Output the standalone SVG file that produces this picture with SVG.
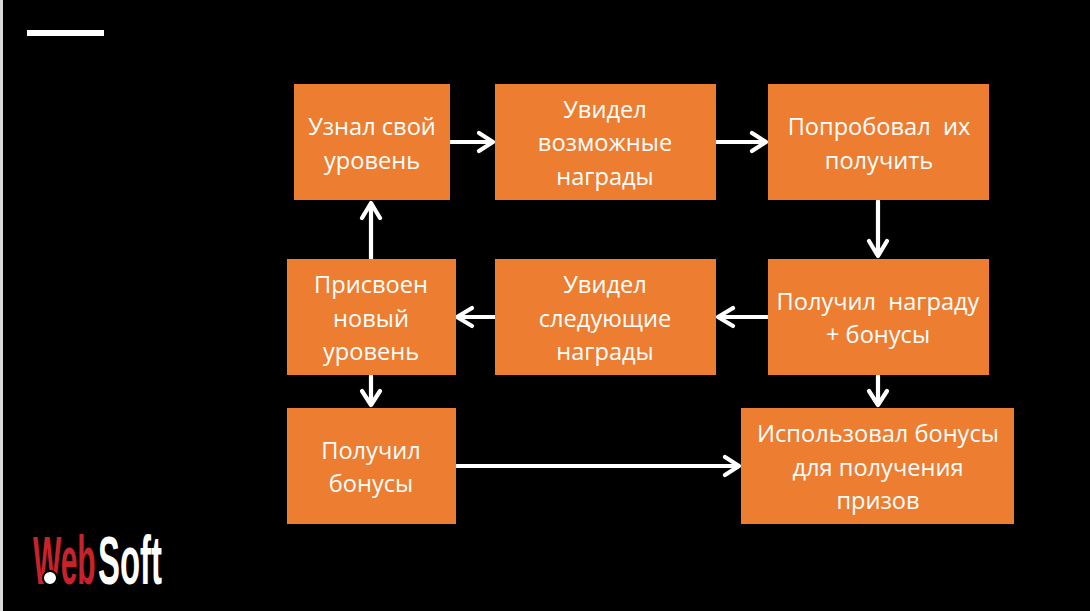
<svg xmlns="http://www.w3.org/2000/svg" width="1090" height="611" viewBox="0 0 1090 611">
<style>
.b{fill:#ed7d31}
.t{font-family:"Open Sans","Noto Sans","Noto Sans CJK SC",sans-serif;font-size:23.6px;fill:#fff;text-anchor:middle}
.c{fill:none;stroke:#fff;stroke-width:4.2;stroke-linecap:round;stroke-linejoin:round}
.l{font-family:"Liberation Sans",sans-serif;font-size:68px;font-weight:700}
</style>
<rect width="1090" height="611" fill="#000"/>
<rect width="3" height="611" fill="#d9d9d9"/>
<rect x="27" y="30" width="77" height="6" fill="#fff"/>
<g id="connectors">
<path class="c" d="M450 142H493M479 133L493 142L479 151"/>
<path class="c" d="M716 142H766M752 133L766 142L752 151"/>
<path class="c" d="M878 201V256M869 241L878 256L887 241"/>
<path class="c" d="M768 317H718M733 308L718 317L733 326"/>
<path class="c" d="M495 317H457M472 308L457 317L472 326"/>
<path class="c" d="M371 259V203M362 218L371 203L380 218"/>
<path class="c" d="M371 376V405M362 391L371 405L380 391"/>
<path class="c" d="M878 376V405M869 391L878 405L887 391"/>
<path class="c" d="M456 466H739M725 457L739 466L725 475"/>
</g>
<g id="n1"><rect class="b" x="294" y="84" width="156" height="116"/><text class="t" x="372" y="135">Узнал свой</text><text class="t" x="372" y="169">уровень</text></g>
<g id="n2"><rect class="b" x="495" y="84" width="221" height="116"/><text class="t" x="605" y="118">Увидел</text><text class="t" x="605" y="151">возможные</text><text class="t" x="605" y="185">награды</text></g>
<g id="n3"><rect class="b" x="768" y="84" width="221" height="116"/><text class="t" x="879" y="135" xml:space="preserve">Попробовал  их</text><text class="t" x="879" y="169">получить</text></g>
<g id="n4"><rect class="b" x="768" y="259" width="221" height="116"/><text class="t" x="878" y="310" xml:space="preserve">Получил  награду</text><text class="t" x="878" y="343">+ бонусы</text></g>
<g id="n5"><rect class="b" x="495" y="259" width="221" height="116"/><text class="t" x="605" y="293">Увидел</text><text class="t" x="605" y="327">следующие</text><text class="t" x="605" y="360">награды</text></g>
<g id="n6"><rect class="b" x="287" y="259" width="169" height="116"/><text class="t" x="371" y="293">Присвоен</text><text class="t" x="371" y="327">новый</text><text class="t" x="371" y="360">уровень</text></g>
<g id="n7"><rect class="b" x="287" y="408" width="169" height="116"/><text class="t" x="371" y="459">Получил</text><text class="t" x="371" y="492">бонусы</text></g>
<g id="n8"><rect class="b" x="741" y="408" width="273" height="116"/><text class="t" x="878" y="442">Использовал бонусы</text><text class="t" x="878" y="476">для получения</text><text class="t" x="878" y="509">призов</text></g>
<g id="logo">
<text class="l" transform="translate(33 584) scale(.44 1)" fill="#c8232c">Web</text>
<text class="l" transform="translate(98 584) scale(.484 1)" fill="#fff">Soft</text>
<circle cx="50" cy="578" r="7" fill="#fff" stroke="#000" stroke-width="2"/>
</g>
</svg>
